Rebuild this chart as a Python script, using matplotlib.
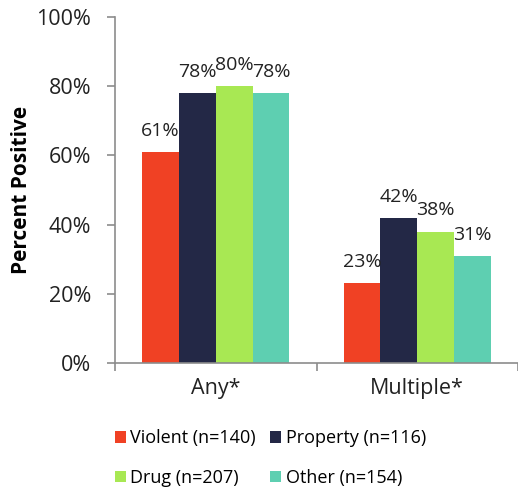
import numpy as np
import matplotlib
matplotlib.use("Agg")
import matplotlib.pyplot as plt

plt.rcParams['font.family'] = ['Open Sans', 'DejaVu Sans']

groups = ["Any*", "Multiple*"]
series = ["Violent (n=140)", "Property (n=116)", "Drug (n=207)", "Other (n=154)"]
violent = [61, 23]
prop = [78, 42]
drug = [80, 38]
other = [78, 31]
colors = ["#F04124", "#232846", "#A8E853", "#5ECFB1"]
yticks = [0, 20, 40, 60, 80, 100]

fig = plt.figure(figsize=(5.18, 4.87), dpi=100)
ax = fig.add_axes([115 / 518, 1 - 363 / 487, 403 / 518, 346 / 487])

x = np.arange(len(groups))
width = 0.183
bars = []
for i, (vals, name, c) in enumerate(zip([violent, prop, drug, other], series, colors)):
    pos = x + (i - 1.5) * width
    bars.append(ax.bar(pos, vals, width, color=c, label=name, linewidth=0))
    for p, v in zip(pos, vals):
        ax.text(p, v + 3.5, f"{v}%", ha="center", va="bottom", fontsize=14, color="#222222")

ax.set_xlim(-0.5, 1.5)
ax.set_ylim(0, 100)
ax.set_yticks(yticks)
ax.set_yticklabels([f"{t}%" for t in yticks], fontsize=15.5, color="#222222")
ax.set_xticks(x)
ax.set_xticklabels(groups, fontsize=15.5, color="#222222")
ax.tick_params(axis="x", length=0, pad=11)
ax.set_xticks([-0.5, 0.5, 1.5], minor=True)
ax.tick_params(axis="x", which="minor", length=6, color="#8c8c8c", width=1.2)
ax.tick_params(axis="y", length=6, color="#8c8c8c", width=1.2, pad=11)

for s in ["top", "right"]:
    ax.spines[s].set_visible(False)
for s in ["left", "bottom"]:
    ax.spines[s].set_color("#8c8c8c")
    ax.spines[s].set_linewidth(1.2)

ax.set_ylabel("Percent Positive", fontsize=15, fontweight="bold", labelpad=3)

# legend fills column-wise, so reorder to get Violent/Property on the first row
order = [0, 2, 1, 3]
fig.legend([bars[i] for i in order], [series[i] for i in order],
           loc="lower left", bbox_to_anchor=(104 / 518, -0.022), ncol=2, frameon=False,
           fontsize=13, handlelength=0.6, handleheight=0.6, handletextpad=0.25,
           columnspacing=0.8, labelspacing=1.2, borderpad=0.1)

fig.savefig("out.png", dpi=100)
